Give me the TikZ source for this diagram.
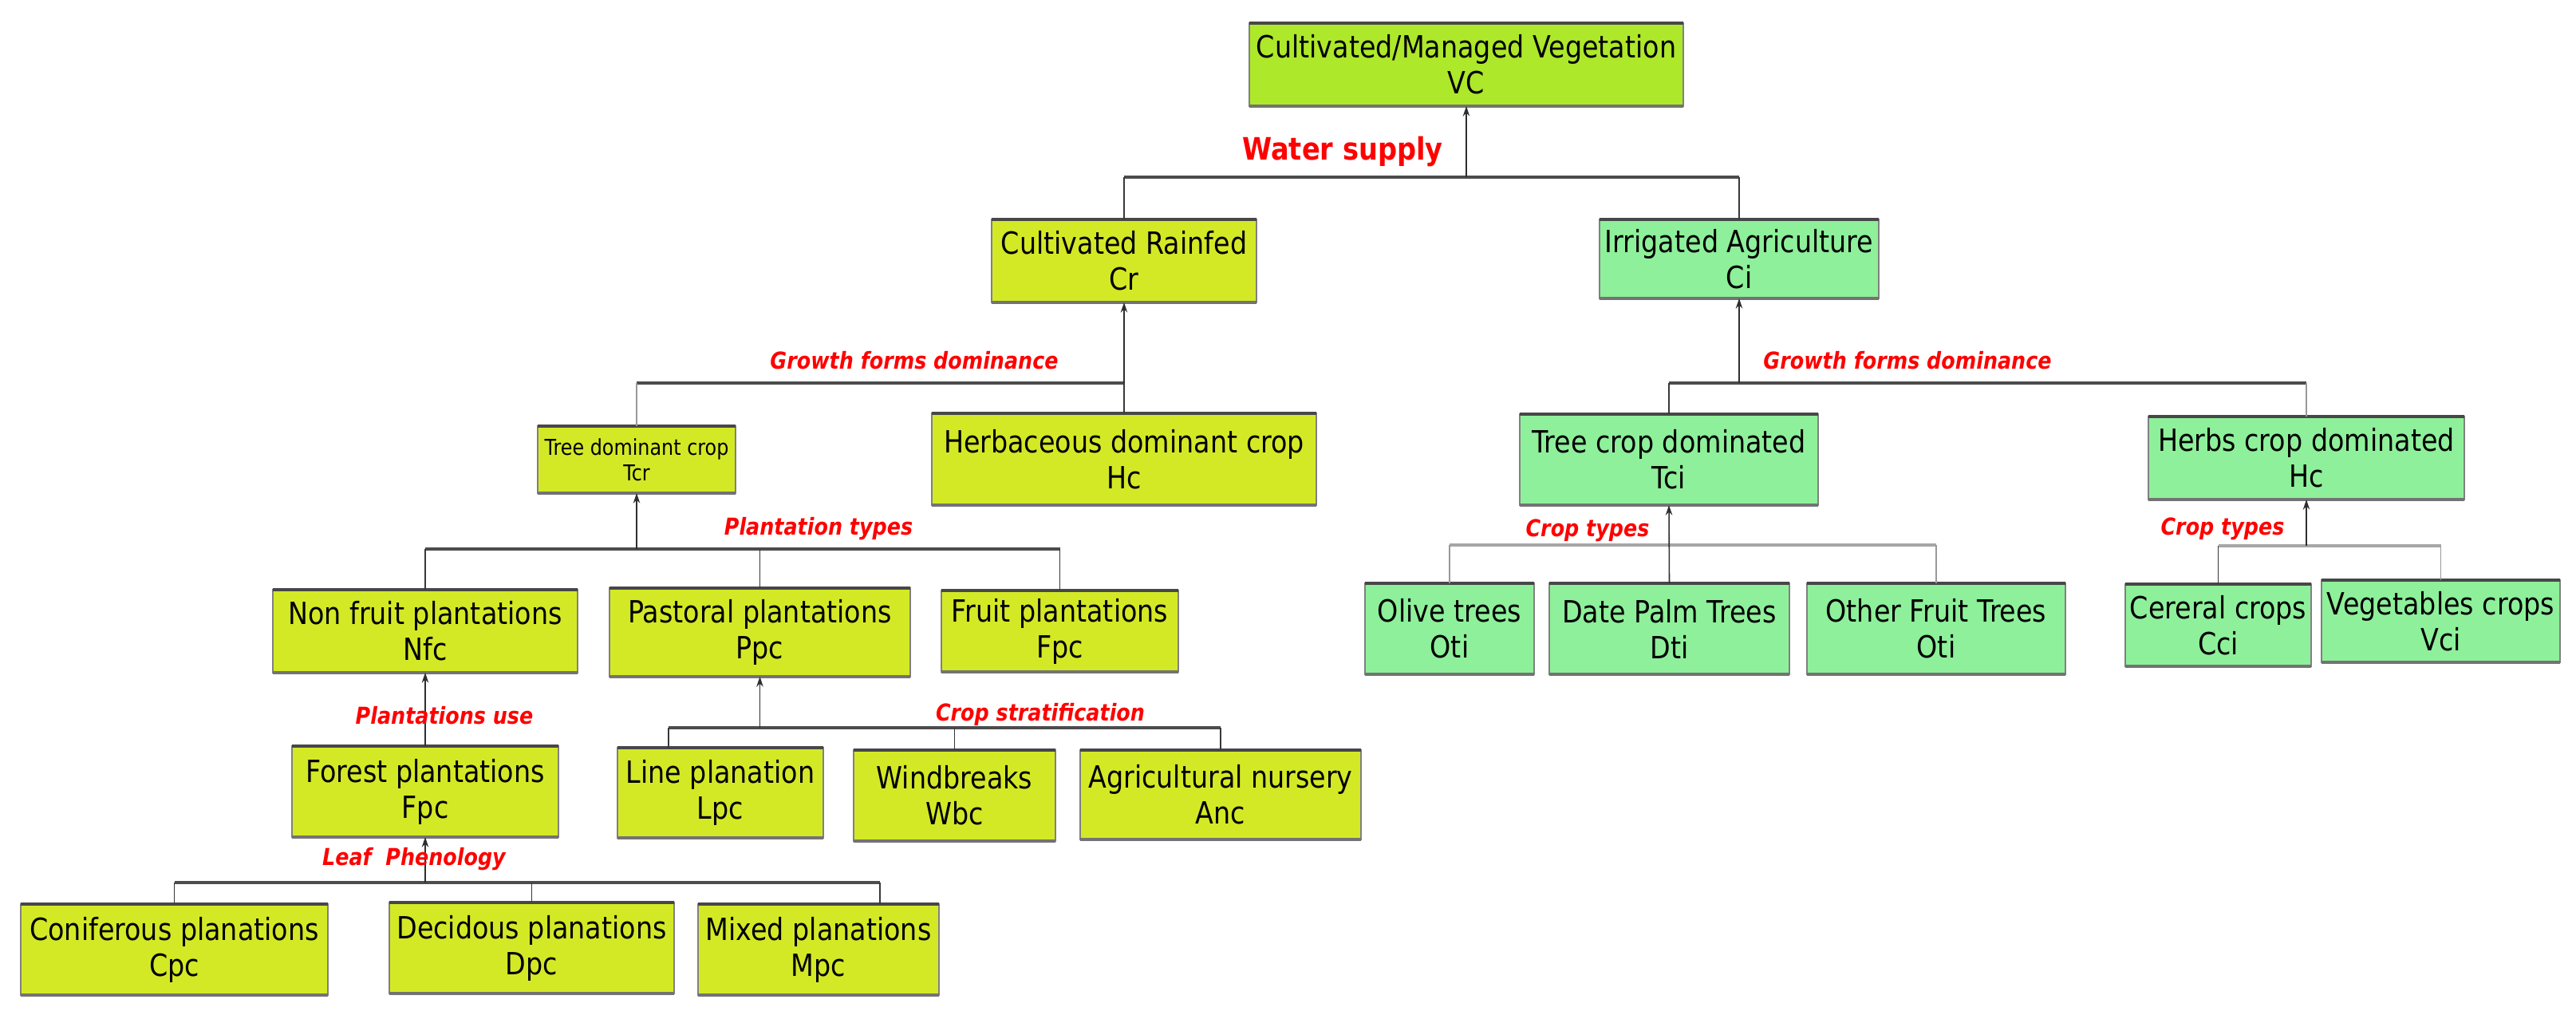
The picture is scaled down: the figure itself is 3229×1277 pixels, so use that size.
\documentclass[tikz,border=0pt]{standalone}
\usepackage{fontspec}
\setmainfont{DejaVu Sans}[FakeStretch=0.87]
\usetikzlibrary{arrows.meta}
\definecolor{cVC}{RGB}{174,232,42}
\definecolor{cYG}{RGB}{212,233,38}
\definecolor{cGR}{RGB}{142,240,154}
\definecolor{cRed}{RGB}{255,0,0}
\newcommand\bx[7]{\node[#6, minimum width={(#4-#2)*0.01cm}, minimum height={(#5-#3)*0.01cm}] (#1) at ({(#2+#4)/2},{(#3+#5)/2}) {#7};}
\begin{document}
\begin{tikzpicture}[x=0.01cm,y=-0.01cm,
  box/.style={draw=black!50, line width=0.4pt, inner sep=0pt, outer sep=0pt, align=center, font=\fontsize{10.9}{12.8}\selectfont},
  vcb/.style={box, fill=cVC},
  ygb/.style={box, fill=cYG},
  grb/.style={box, fill=cGR},
  smallf/.style={font=\fontsize{7.8}{9.1}\selectfont},
  topedge/.style={draw=black!72, line width=1.1pt},
  botedge/.style={draw=black!55, line width=1.1pt},
  bus/.style={draw=black!70, line width=0.9pt},
  busgray/.style={draw=black!35, line width=0.9pt},
  vline/.style={draw=black!78, line width=0.45pt},
  vgray/.style={draw=black!40, line width=0.45pt},
  arr/.style={draw=black!82, line width=0.45pt, -{Stealth[length=3.6pt,width=2.4pt]}},
  lab/.style={text=cRed, inner sep=0pt, font=\fontsize{8.3}{10}\selectfont\bfseries\itshape},
  water/.style={text=cRed, inner sep=0pt, font=\fontsize{11}{13}\selectfont\bfseries}]
\useasboundingbox (0,0) rectangle (3229,1277);

% boxes
\bx{vc}{1566}{29}{2110}{133}{vcb}{Cultivated/Managed Vegetation\\VC}
\bx{cr}{1243}{275}{1575}{379}{ygb}{Cultivated Rainfed\\Cr}
\bx{ci}{2005}{275}{2355}{374}{grb}{Irrigated Agriculture\\Ci}
\bx{tcr}{674}{534}{922}{618}{ygb,smallf}{Tree dominant crop\\Tcr}
\bx{hcl}{1168}{518}{1650}{633}{ygb}{Herbaceous dominant crop\\Hc}
\bx{nfc}{342}{739}{724}{843}{ygb}{Non fruit plantations\\Nfc}
\bx{ppc}{764}{737}{1141}{848}{ygb}{Pastoral plantations\\Ppc}
\bx{fpl}{1180}{740}{1477}{842}{ygb}{Fruit plantations\\Fpc}
\bx{fop}{366}{935}{700}{1049}{ygb}{Forest plantations\\Fpc}
\bx{lpc}{774}{937}{1032}{1050}{ygb}{Line planation\\Lpc}
\bx{wbc}{1070}{940}{1323}{1054}{ygb}{Windbreaks\\Wbc}
\bx{anc}{1354}{940}{1706}{1052}{ygb}{Agricultural nursery\\Anc}
\bx{cpc}{26}{1133}{411}{1247}{ygb}{Coniferous planations\\Cpc}
\bx{dpc}{488}{1131}{845}{1245}{ygb}{Decidous planations\\Dpc}
\bx{mpc}{875}{1133}{1177}{1247}{ygb}{Mixed planations\\Mpc}
\bx{tci}{1905}{519}{2279}{633}{grb}{Tree crop dominated\\Tci}
\bx{hcr}{2693}{522}{3089}{626}{grb}{Herbs crop dominated\\Hc}
\bx{oti}{1711}{731}{1923}{845}{grb}{Olive trees\\Oti}
\bx{dti}{1942}{731}{2243}{845}{grb}{Date Palm Trees\\Dti}
\bx{ofti}{2265}{731}{2589}{845}{grb}{Other Fruit Trees\\Oti}
\bx{cci}{2664}{732}{2897}{835}{grb}{Cereral crops\\Cci}
\bx{vci}{2910}{727}{3209}{830}{grb}{Vegetables crops\\Vci}

\foreach \n in {vc,cr,ci,tcr,hcl,nfc,ppc,fpl,fop,lpc,wbc,anc,cpc,dpc,mpc,tci,hcr,oti,dti,ofti,cci,vci}{
  \draw[topedge] (\n.north west) -- (\n.north east);
  \draw[botedge] (\n.south west) -- (\n.south east);
}

% bus coordinates
\coordinate (bA) at (1838,222);
\coordinate (bB) at (1409,480);
\coordinate (bC) at (798,688);
\coordinate (bE) at (952.5,912);
\coordinate (bF) at (533,1106);
\coordinate (bG) at (2180,480);
\coordinate (bH) at (2092,683);
\coordinate (bI) at (2891,684);
\coordinate (lpcT) at ([xshift=0.64cm]lpc.north west);
\coordinate (mpcT) at ([xshift=2.28cm]mpc.north west);

% A: water supply
\draw[bus] (cr.north |- bA) -- (ci.north |- bA);
\draw[vline] (cr.north |- bA) -- (cr.north);
\draw[vline] (ci.north |- bA) -- (ci.north);
\draw[arr] (bA) -- (vc.south);

% B: growth forms (rainfed)
\draw[bus] (tcr.north |- bB) -- (bB);
\draw[vline] (bB) -- (hcl.north);
\draw[vgray] (tcr.north |- bB) -- (tcr.north);
\draw[arr] (bB) -- (cr.south);

% C: plantation types
\draw[bus] (nfc.north |- bC) -- (fpl.north |- bC);
\draw[vline] (nfc.north |- bC) -- (nfc.north);
\draw[vline] (ppc.north |- bC) -- (ppc.north);
\draw[vline] (fpl.north |- bC) -- (fpl.north);
\draw[arr] (bC) -- (tcr.south);

% D: plantations use
\draw[arr] (fop.north) -- (nfc.south);

% E: crop stratification
\draw[bus] (lpcT |- bE) -- (anc.north |- bE);
\draw[vline] (lpcT |- bE) -- (lpcT);
\draw[vline] (wbc.north |- bE) -- (wbc.north);
\draw[vline] (anc.north |- bE) -- (anc.north);
\draw[arr] (bE) -- (ppc.south);

% F: leaf phenology
\draw[bus] (cpc.north |- bF) -- (mpcT |- bF);
\draw[vline] (cpc.north |- bF) -- (cpc.north);
\draw[vline] (dpc.north |- bF) -- (dpc.north);
\draw[vline] (mpcT |- bF) -- (mpcT);
\draw[arr] (bF) -- (fop.south);

% G: growth forms (irrigated)
\draw[bus] (tci.north |- bG) -- (hcr.north |- bG);
\draw[vline] (tci.north |- bG) -- (tci.north);
\draw[vgray] (hcr.north |- bG) -- (hcr.north);
\draw[arr] (bG) -- (ci.south);

% H: crop types (tree)
\draw[busgray] (oti.north |- bH) -- (ofti.north |- bH);
\draw[vgray] (oti.north |- bH) -- (oti.north);
\draw[vgray] (ofti.north |- bH) -- (ofti.north);
\draw[arr] (dti.north) -- (tci.south);

% I: crop types (herbs)
\draw[busgray] (cci.north |- bI) -- (vci.north |- bI);
\draw[vline] (cci.north |- bI) -- (cci.north);
\draw[vgray] (vci.north |- bI) -- (vci.north);
\draw[arr] (bI) -- (hcr.south);

% labels
\node[water] (lw) at (1683,190) {Water supply};
\node[lab] (l1) at (1146,452) {Growth forms dominance};
\node[lab] (l2) at (2391,452) {Growth forms dominance};
\node[lab] (l3) at (1026,663) {Plantation types};
\node[lab] (l4) at (557,897) {Plantations use};
\node[lab] (l5) at (1304,895) {Crop stratification};
\node[lab] (l6) at (519,1077) {Leaf\ \ Phenology};
\node[lab] (l7) at (1990,665) {Crop types};
\node[lab] (l8) at (2786,663) {Crop types};
\end{tikzpicture}
\end{document}
